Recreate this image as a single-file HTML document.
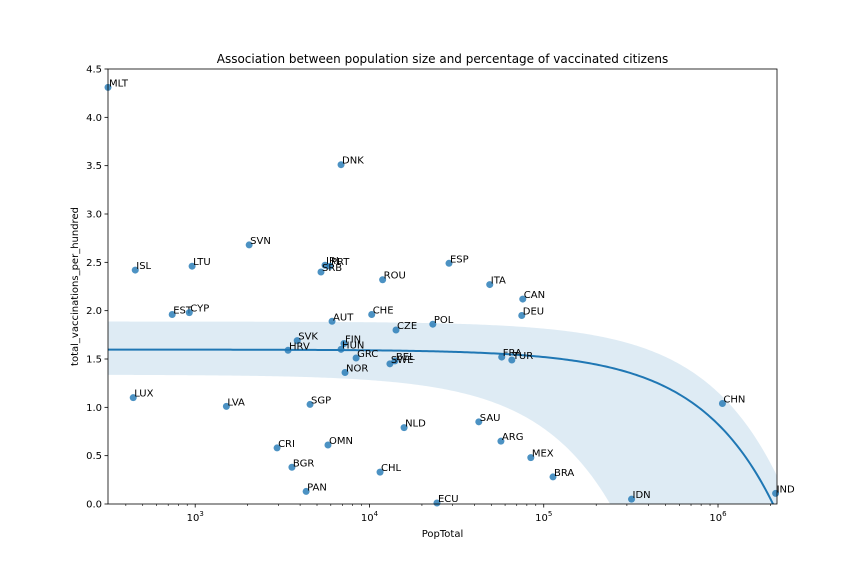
<!DOCTYPE html>
<html><head><meta charset="utf-8"><style>
html,body{margin:0;background:#fff;overflow:hidden;width:864px;height:576px}
svg{display:block;font-family:"DejaVu Sans","Liberation Sans",sans-serif}
</style></head><body>
<svg id="c" width="864" height="576"></svg>
<script>
const countries=["MLT","DNK","SVN","ISL","LTU","IRL","PRT","SRB","ROU","ESP","ITA","CAN","DEU","EST","CYP","CHE","AUT","CZE","POL","SVK","HRV","FIN","HUN","GRC","BEL","SWE","NOR","FRA","TUR","LUX","LVA","SGP","CHN","SAU","NLD","ARG","CRI","OMN","MEX","BGR","CHL","BRA","PAN","ECU","IDN","IND"];
const pops=[316,6870,2040,453,960,5560,5940,5270,11900,28600,49000,75800,74800,738,925,10300,6100,14200,23100,3850,3410,7140,6870,8380,14000,13100,7240,57400,65600,441,1510,4560,1060000,42400,15800,56800,2950,5780,84300,3590,11500,113000,4330,24400,319000,2140000];
const vals=[4.31,3.51,2.68,2.42,2.46,2.47,2.46,2.40,2.32,2.49,2.27,2.12,1.95,1.96,1.98,1.96,1.89,1.80,1.86,1.69,1.59,1.66,1.60,1.51,1.48,1.45,1.36,1.52,1.49,1.10,1.01,1.03,1.04,0.85,0.79,0.65,0.58,0.61,0.48,0.38,0.33,0.28,0.13,0.01,0.05,0.11];
const yTicks=[0,0.5,1,1.5,2,2.5,3,3.5,4,4.5];
const xTickExps=[3,4,5,6];
const L=108,R=777,T=69,B=504,xmin=Math.log10(316),xmax=Math.log10(2180000),ymax=4.5;
const X=v=>L+(Math.log10(v)-xmin)/(xmax-xmin)*(R-L);
const Y=v=>B-v/ymax*(B-T);
const svg=document.getElementById('c');const NS="http://www.w3.org/2000/svg";
function el(t,a,p){const e=document.createElementNS(NS,t);for(const k in a)e.setAttribute(k,a[k]);(p||svg).appendChild(e);return e;}
const defs=el('defs',{});const cp=el('clipPath',{id:'clip'},defs);el('rect',{x:L,y:T,width:R-L,height:B-T},cp);
// regression
const n=pops.length;let mx=0,my=0;for(let i=0;i<n;i++){mx+=pops[i];my+=vals[i];}mx/=n;my/=n;
let sxx=0,sxy=0;for(let i=0;i<n;i++){sxx+=(pops[i]-mx)**2;sxy+=(pops[i]-mx)*(vals[i]-my);}
const b=sxy/sxx,a=my-b*mx;
const up=[],lo=[],ln=[];
for(let k=0;k<=300;k++){const lx=xmin+(xmax-xmin)*k/300,x=10**lx;const yh=a+b*x;
const seU=0.29+0.08*(x/2e6);const seL=0.26+6.2*Math.abs(b)*x;
const px=X(x);ln.push(px+','+Y(yh));up.push(px+','+Y(yh+seU));lo.unshift(px+','+Y(yh-seL));}
const g=el('g',{'clip-path':'url(#clip)'});
const band=el('polygon',{points:up.concat(lo).join(' '),fill:'#1f77b4','fill-opacity':0.15},g);

const line=el('polyline',{points:ln.join(' '),fill:'none',stroke:'#1f77b4','stroke-width':2},g);

for(let i=0;i<n;i++){const cx=X(pops[i]),cy=Y(vals[i]);
const c=el('circle',{cx:cx,cy:cy,r:3.5,fill:'#1f77b4','fill-opacity':0.8});

const t=el('text',{x:cx+1,y:cy-1,'font-size':10,fill:'#000'});t.textContent=countries[i];
}
const fr=el('rect',{x:L,y:T,width:R-L,height:B-T,fill:'none',stroke:'#000','stroke-width':0.8});

for(const v of yTicks){const y=Y(v);el('line',{x1:L-3.5,x2:L,y1:y,y2:y,stroke:'#000','stroke-width':0.8});
const t=el('text',{x:L-6,y:y+3.5,'font-size':10,'text-anchor':'end'});t.textContent=v.toFixed(1);
}
for(let e=2;e<=6;e++)for(let m=1;m<10;m++){const v=m*10**e;const lv=Math.log10(v);if(lv<xmin||lv>xmax)continue;const x=X(v);
el('line',{x1:x,x2:x,y1:B,y2:B+(m==1?3.5:2),stroke:'#000','stroke-width':m==1?0.8:0.6});}
for(const e of xTickExps){const x=X(10**e);const t=el('text',{x:x,y:B+17,'font-size':10,'text-anchor':'middle'});
t.innerHTML='10<tspan font-size="7" dy="-5">'+e+'</tspan>';}
const ti=el('text',{x:(L+R)/2,y:63,'font-size':12,'text-anchor':'middle'});ti.textContent='Association between population size and percentage of vaccinated citizens';

const xl=el('text',{x:(L+R)/2,y:537,'font-size':10,'text-anchor':'middle'});xl.textContent='PopTotal';

const yl=el('text',{x:0,y:0,'font-size':10,'text-anchor':'middle',transform:'translate(78,'+((T+B)/2)+') rotate(-90)'});yl.textContent='total_vaccinations_per_hundred';

</script>
</body></html>
